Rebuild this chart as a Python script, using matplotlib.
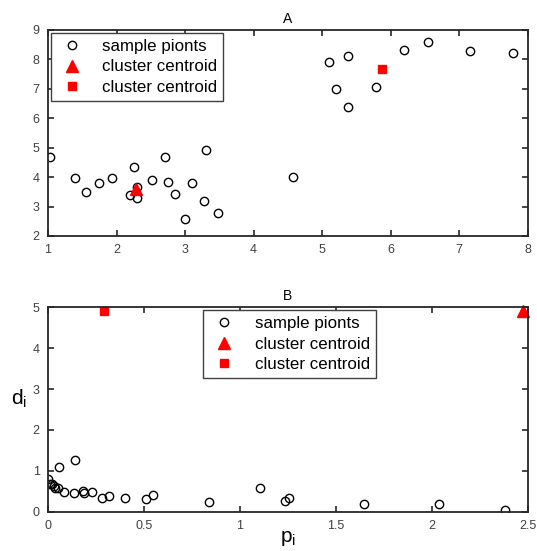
import numpy as np
import matplotlib.pyplot as plt

plt.rcParams['font.family'] = ['Liberation Sans', 'DejaVu Sans']

# panel A: sample points and two centroids
ax_x = [1.03, 1.40, 1.55, 1.75, 1.93, 2.20, 2.25, 2.30, 2.30, 2.52, 2.70, 2.75,
        2.85, 3.00, 3.10, 3.28, 3.30, 3.48, 4.57, 5.10, 5.20, 5.38, 5.38, 5.78,
        6.20, 6.55, 7.15, 7.78]
ax_y = [4.67, 3.98, 3.50, 3.80, 3.98, 3.40, 4.35, 3.65, 3.28, 3.90, 4.70, 3.85,
        3.42, 2.57, 3.80, 3.18, 4.93, 2.78, 4.02, 7.90, 6.98, 8.10, 6.37, 7.05,
        8.32, 8.60, 8.28, 8.22]
a_tri = (2.28, 3.60)
a_sq = (5.87, 7.67)

# panel B: p_i vs d_i
bp = [0.00, 0.01, 0.02, 0.03, 0.035, 0.05, 0.055, 0.085, 0.135, 0.14, 0.18,
      0.185, 0.23, 0.28, 0.32, 0.40, 0.51, 0.545, 0.84, 1.105, 1.233, 1.254,
      1.646, 2.036, 2.38]
bd = [0.79, 0.67, 0.69, 0.62, 0.57, 0.57, 1.10, 0.49, 0.45, 1.26, 0.50,
      0.45, 0.47, 0.34, 0.39, 0.34, 0.32, 0.42, 0.24, 0.57, 0.26, 0.34,
      0.18, 0.20, 0.04]
b_tri = (2.474, 4.92)
b_sq = (0.294, 4.90)

fig = plt.figure(figsize=(5.37, 5.51), dpi=100)
ax1 = fig.add_axes([0.0894, 0.5717, 0.8936, 0.3739])
ax2 = fig.add_axes([0.0894, 0.0713, 0.8936, 0.3710])


def style(ax):
    for s in ax.spines.values():
        s.set_linewidth(1.3)
        s.set_color('#262626')
    ax.tick_params(direction='in', top=True, right=True, length=4, width=1.2,
                   labelsize=9, colors='#262626', labelcolor='#404040', pad=6)


leg_kw = dict(fontsize=12.2, fancybox=False, edgecolor='#404040', framealpha=1,
              borderpad=0.35, handletextpad=0.9, labelspacing=0.33,
              borderaxespad=0.15, handlelength=1.8)

ax1.plot(ax_x, ax_y, 'o', mfc='none', mec='black', ms=6, mew=1.0, label='sample pionts')
ax1.plot(*a_tri, '^', color='red', ms=8, label='cluster centroid')
ax1.plot(*a_sq, 's', color='red', ms=6, label='cluster centroid')
ax1.set_xlim(1, 8)
ax1.set_ylim(2, 9)
ax1.set_xticks(range(1, 9))
ax1.set_yticks(range(2, 10))
ax1.set_title('A', fontsize=10, pad=5)
style(ax1)
ax1.legend(loc='upper left', bbox_to_anchor=(0.0, 0.998), **leg_kw)

ax2.plot(bp, bd, 'o', mfc='none', mec='black', ms=6, mew=1.0, label='sample pionts')
ax2.plot(*b_tri, '^', color='red', ms=8, clip_on=False, label='cluster centroid')
ax2.plot(*b_sq, 's', color='red', ms=6, clip_on=False, label='cluster centroid')
ax2.set_xlim(0, 2.5)
ax2.set_ylim(0, 5)
ax2.set_xticks([0, 0.5, 1, 1.5, 2, 2.5])
ax2.set_xticklabels(['0', '0.5', '1', '1.5', '2', '2.5'])
ax2.set_yticks(range(0, 6))
ax2.set_title('B', fontsize=10, pad=5)
ax2.set_xlabel('p$_\\mathregular{i}$', fontsize=15, labelpad=-2)
ax2.set_ylabel('d$_\\mathregular{i}$', fontsize=15, rotation=0, labelpad=10)
style(ax2)
ax2.legend(loc='upper left', bbox_to_anchor=(0.318, 0.998), **leg_kw)

fig.savefig('out.png', dpi=100)
